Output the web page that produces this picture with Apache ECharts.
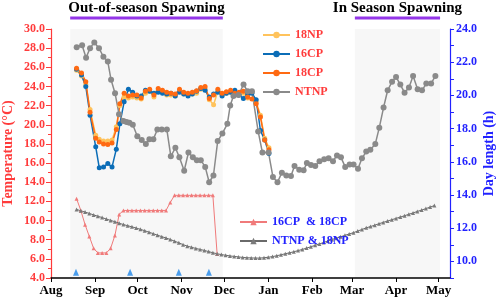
<!DOCTYPE html>
<html>
<head>
<meta charset="utf-8">
<script src="https://cdn.jsdelivr.net/npm/echarts@6/dist/echarts.min.js"></script>
<style>
  html, body { margin: 0; padding: 0; background: #fff; }
  #chart { width: 498px; height: 300px; }
</style>
</head>
<body>
<div id="chart"></div>
<script>
// x axis counts days from 1 Aug
const monthNames = ['Aug', 'Sep', 'Oct', 'Nov', 'Dec', 'Jan', 'Feb', 'Mar', 'Apr', 'May'];
const monthStarts = [0, 31, 61, 92, 122, 153, 184, 212, 243, 273];

// spawning periods (day from, day to) and their titles
const periodNames = ['Out-of-season Spawning', 'In Season Spawning'];
const periodFrom = [13.5, 214];
const periodTo = [121, 274];

// temperature, groups in the controlled rooms
const tDays = [18, 21.5, 24.5, 27.5, 31.5, 34, 37, 40, 43, 46, 48.5, 51.5, 54.5, 57.5, 60.5,
  63.5, 66.5, 69.5, 72.5, 75.5, 78.5, 81.5, 84.5, 87.5, 90.5, 93.5, 96.5, 99.5, 102.5, 105.5,
  108.5, 111.5, 114.5, 117.5, 120.5, 123.5, 126.5, 129.5, 132.5, 135.5, 138.5, 141.5, 144.5,
  147.5, 150.5, 153.5];
const np18 = [25.7, 25.1, 24.2, 21.6, 18.9, 18.5, 18.3, 18.3, 18.4, 19.8, 22.0, 22.9, 22.8,
  22.9, 22.8, 22.7, 23.3, 23.5, 22.9, 23.6, 23.4, 23.1, 23.1, 23.0, 23.5, 23.2, 23.1, 23.2,
  23.3, 23.7, 23.8, 22.6, 22.1, 23.5, 23.1, 23.3, 23.4, 23.1, 23.2, 23.3, 22.8, 23.4, 22.4,
  21.0, 18.6, 17.6];
const cp16 = [25.8, 25.2, 24.0, 21.0, 17.7, 15.5, 15.6, 15.95, 15.6, 17.45, 20.1, 22.4, 23.7,
  23.4, 23.0, 23.0, 23.6, 23.5, 23.3, 23.4, 23.3, 23.2, 23.3, 23.0, 23.4, 23.2, 23.0, 23.2,
  23.5, 23.8, 23.6, 22.9, 23.2, 23.4, 23.0, 23.3, 23.4, 23.6, 23.1, 22.75, 23.2, 23.3, 22.6,
  19.4, 18.4, 17.0];
const cp18 = [25.9, 25.4, 24.5, 21.3, 18.6, 18.2, 18.0, 17.95, 18.1, 19.5, 22.2, 23.3, 23.0,
  23.1, 23.1, 22.8, 23.5, 23.7, 23.1, 23.8, 23.6, 23.4, 23.3, 23.2, 23.7, 23.4, 23.3, 23.4,
  23.55, 23.9, 24.0, 22.75, 23.1, 23.7, 23.3, 23.45, 23.6, 23.3, 23.4, 23.5, 22.9, 22.7, 22.2,
  20.8, 18.4, 17.4];

// temperature, natural pond
const ntDays = [18.1, 21.9, 24.7, 27.5, 30.5, 33.8, 36.9, 40.0, 42.3, 45.1, 47.9, 51.0, 53.2,
  55.2, 57.6, 60.8, 63.9, 66.8, 69.3, 72.1, 74.9, 78.0, 81.6, 84.4, 87.6, 90.4, 93.8, 96.8,
  99.9, 102.7, 105.5, 108.6, 111.4, 114.4, 117.4, 120.7, 124.2, 126.2, 128.5, 132.0, 135.6,
  138.5, 141.5, 145.9, 148.9, 153.2, 156.3, 159.5, 162.6, 165.7, 169.0, 171.5, 174.8, 177.9,
  180.2, 183.1, 186.1, 189.1, 192.4, 195.5, 198.6, 201.4, 204.2, 207.2, 210.3, 213.1, 216.2,
  219.0, 222.0, 224.9, 228.4, 231.2, 234.2, 237.1, 240.2, 243.0, 246.0, 249.0, 252.1, 255.0,
  258.2, 261.3, 264.3, 267.7, 270.7];
const ntnp = [28.1, 28.3, 27.0, 28.0, 28.6, 28.0, 27.1, 26.6, 24.7, 23.3, 21.1, 20.4, 20.3,
  20.2, 20.0, 18.8, 18.4, 18.0, 18.5, 18.5, 19.5, 19.5, 19.5, 16.7, 17.6, 16.6, 15.2, 17.1,
  16.6, 16.3, 16.3, 15.6, 14.0, 14.7, 18.3, 19.1, 20.1, 22.0, 23.0, 23.1, 24.2, 23.5, 23.5,
  19.3, 17.1, 17.1, 14.55, 14.0, 15.0, 14.7, 14.65, 15.7, 15.3, 15.25, 16.0, 15.8, 15.7, 16.2,
  16.4, 16.5, 16.2, 16.8, 16.6, 15.6, 15.85, 15.85, 15.4, 16.5, 17.2, 17.4, 18.0, 19.7, 21.8,
  23.6, 24.5, 25.0, 24.2, 23.35, 23.9, 25.1, 23.7, 23.6, 24.3, 24.3, 25.1];

// day length (h), sampled every 3 days from day 18
const dlStart = 18;
const dlStep = 3;
const dayLenCP = [13.78, 13.07, 12.21, 11.50, 10.79, 10.51, 10.51, 10.51, 10.79, 11.56, 12.83,
  13.07, 13.07, 13.07, 13.07, 13.07, 13.07, 13.07, 13.07, 13.07, 13.07, 13.07, 13.55, 13.98,
  13.98, 13.98, 13.98, 13.98, 13.98, 13.98, 13.98, 13.98, 13.98, 10.44];
const dayLenNT = [13.13, 13.05, 12.97, 12.89, 12.80, 12.72, 12.64, 12.55, 12.47, 12.39, 12.30,
  12.22, 12.15, 12.08, 12.01, 11.93, 11.85, 11.76, 11.67, 11.58, 11.49, 11.41, 11.32, 11.22,
  11.12, 11.01, 10.92, 10.85, 10.78, 10.72, 10.66, 10.59, 10.52, 10.46, 10.41, 10.37, 10.33,
  10.30, 10.27, 10.24, 10.22, 10.21, 10.20, 10.20, 10.22, 10.25, 10.29, 10.34, 10.40, 10.46,
  10.52, 10.58, 10.65, 10.72, 10.80, 10.88, 10.97, 11.05, 11.14, 11.23, 11.32, 11.40, 11.48,
  11.57, 11.65, 11.73, 11.83, 11.92, 12.02, 12.10, 12.18, 12.27, 12.35, 12.43, 12.51, 12.59,
  12.67, 12.75, 12.84, 12.92, 13.01, 13.09, 13.18, 13.27, 13.36];

// spawning events (blue arrows on the bottom)
const spawnDays = [17.6, 55.7, 90, 111.2];
const spawnLevel = 4.6;

const serif = 'Liberation Serif';
const red = '#ff3b3b';
const blue = '#2222ff';

const pair = (xs, ys) => ys.map((v, i) => [xs[i], v]);
const grid3 = ys => ys.map((v, i) => [dlStart + i * dlStep, v]);

const chart = echarts.init(document.getElementById('chart'));

function tempSeries(name, data, color) {
  return {
    name: name,
    type: 'line',
    yAxisIndex: 0,
    data: data,
    symbol: 'circle',
    symbolSize: 5,
    lineStyle: {color: color, width: 1.5},
    itemStyle: {color: color}
  };
}

function dayLenSeries(name, data, color, markColor) {
  return {
    name: name,
    type: 'line',
    yAxisIndex: 1,
    data: data,
    symbol: 'triangle',
    symbolSize: 4,
    lineStyle: {color: color, width: 1},
    itemStyle: {color: markColor}
  };
}

const option = {
  animation: false,
  backgroundColor: '#fff',
  grid: {left: 51, right: 48, top: 29, bottom: 22, outerBoundsMode: 'none'},
  legend: [
    {
      data: ['18NP', '16CP', '18CP', 'NTNP'],
      orient: 'vertical',
      left: 257,
      top: 24,
      itemWidth: 27,
      itemHeight: 8,
      itemGap: 7,
      textStyle: {color: red, fontFamily: serif, fontWeight: 'bold', fontSize: 12}
    },
    {
      data: ['16CP  & 18CP', 'NTNP & 18NP'],
      orient: 'vertical',
      left: 234,
      top: 211,
      itemWidth: 27,
      itemHeight: 8,
      itemGap: 7,
      textStyle: {color: blue, fontFamily: serif, fontWeight: 'bold', fontSize: 12}
    }
  ],
  xAxis: {
    type: 'value',
    min: 0,
    max: 281,
    splitLine: {show: false},
    axisLine: {lineStyle: {color: '#000', width: 1.5}},
    axisTick: {customValues: monthStarts, length: 4, lineStyle: {color: '#000'}},
    axisLabel: {
      customValues: monthStarts,
      formatter: v => monthNames[monthStarts.indexOf(v)],
      color: '#000',
      fontFamily: serif,
      fontWeight: 'bold',
      fontSize: 13,
      margin: 6
    }
  },
  yAxis: [
    {
      type: 'value',
      min: 4,
      max: 30,
      interval: 2,
      splitLine: {show: false},
      axisLine: {show: true, lineStyle: {color: red, width: 1.2}},
      axisTick: {show: true, length: 5, lineStyle: {color: red}},
      minorTick: {show: true, splitNumber: 2, length: 3, lineStyle: {color: red}},
      axisLabel: {
        formatter: v => v.toFixed(1),
        color: red,
        fontFamily: serif,
        fontWeight: 'bold',
        fontSize: 12,
        margin: 6
      }
    },
    {
      type: 'value',
      min: 9,
      max: 24,
      interval: 1,
      position: 'right',
      splitLine: {show: false},
      axisLine: {show: true, lineStyle: {color: blue, width: 1.2}},
      axisTick: {show: true, length: 4, lineStyle: {color: blue}},
      axisLabel: {
        formatter: v => (v % 2 === 0 ? v.toFixed(1) : ''),
        color: blue,
        fontFamily: serif,
        fontWeight: 'bold',
        fontSize: 12,
        margin: 6
      }
    }
  ],
  series: [
    {
      // shaded spawning periods
      type: 'line',
      z: 1,
      data: [],
      markArea: {
        silent: true,
        itemStyle: {color: 'rgba(0,0,0,0.03)'},
        data: periodFrom.map((d, i) => [{xAxis: d}, {xAxis: periodTo[i]}])
      }
    },
    tempSeries('18NP', pair(tDays, np18), '#ffc35c'),
    tempSeries('16CP', pair(tDays, cp16), '#0b6db7'),
    tempSeries('18CP', pair(tDays, cp18), '#ff6a12'),
    Object.assign(tempSeries('NTNP', pair(ntDays, ntnp), '#8a8a8a'), {symbolSize: 6}),
    dayLenSeries('16CP  & 18CP', grid3(dayLenCP), '#f07a7a', '#f07a7a'),
    dayLenSeries('NTNP & 18NP', grid3(dayLenNT), '#6a6a6a', '#7a7a7a'),
    {
      type: 'scatter',
      yAxisIndex: 0,
      data: spawnDays.map(d => [d, spawnLevel]),
      symbol: 'triangle',
      symbolSize: [6, 7],
      itemStyle: {color: '#1e86e8'}
    }
  ]
};

chart.setOption(option);

// period titles, purple bars above the plot, and the axis titles
const px = d => chart.convertToPixel({xAxisIndex: 0}, d);
const midY = (chart.convertToPixel({yAxisIndex: 0}, 4) + chart.convertToPixel({yAxisIndex: 0}, 30)) / 2;
const graphics = [];
periodNames.forEach((name, i) => {
  const x1 = px(periodFrom[i]);
  const x2 = px(periodTo[i]);
  graphics.push({
    type: 'line',
    shape: {x1: x1, y1: 18, x2: x2, y2: 18},
    style: {stroke: '#9436e8', lineWidth: 3}
  });
  graphics.push({
    type: 'text',
    x: (x1 + x2) / 2,
    y: 8,
    style: {
      text: name,
      align: 'center',
      verticalAlign: 'middle',
      fontFamily: serif,
      fontWeight: 'bold',
      fontSize: 15,
      fill: '#000'
    }
  });
});
[['Temperature (°C)', 8, red], ['Day length (h)', 489, blue]].forEach(([text, x, color]) => {
  graphics.push({
    type: 'text',
    x: x,
    y: midY,
    rotation: Math.PI / 2,
    style: {
      text: text,
      align: 'center',
      verticalAlign: 'middle',
      fontFamily: serif,
      fontWeight: 'bold',
      fontSize: 14,
      fill: color
    }
  });
});
chart.setOption({graphic: graphics});
</script>
</body>
</html>
